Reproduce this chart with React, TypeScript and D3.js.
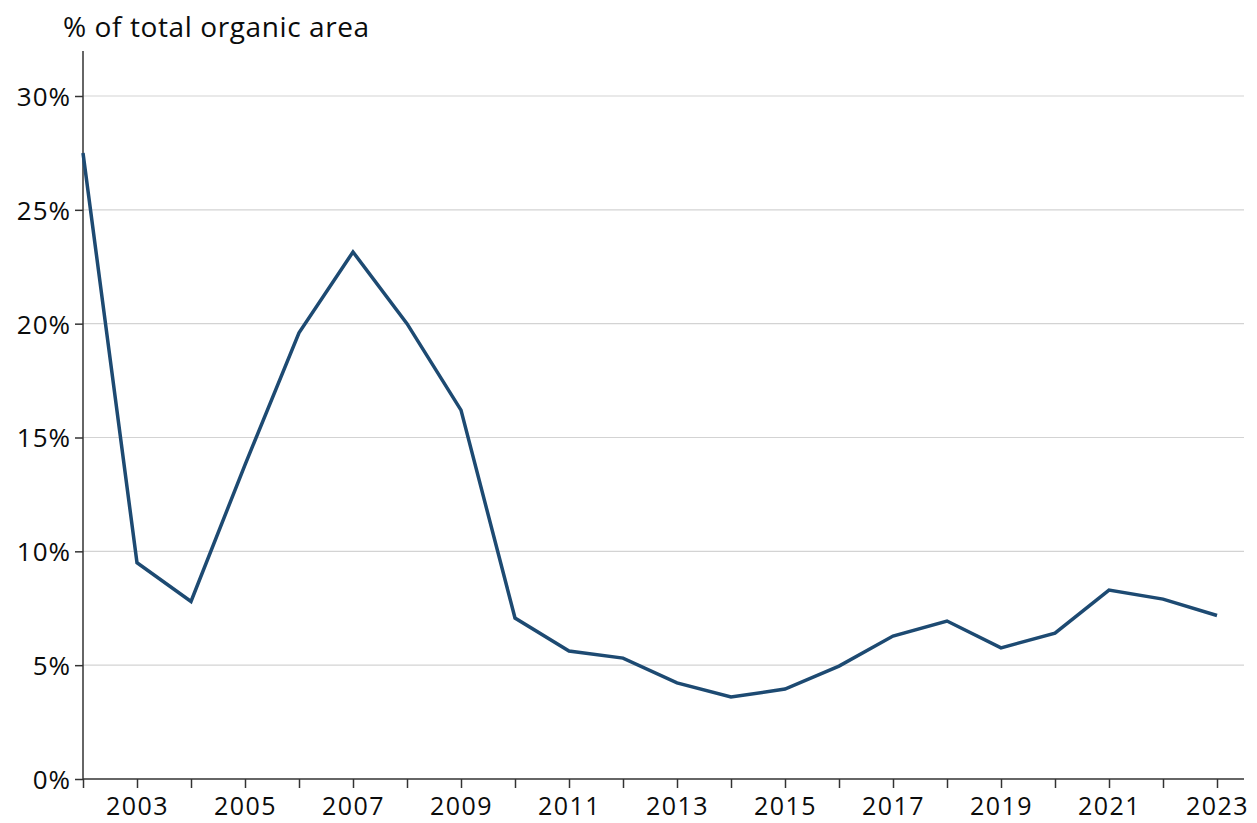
import * as d3 from "d3";
import { useRef, useEffect } from "react";

const years = d3.range(2002, 2024);
const shares = [
  27.5, 9.5, 7.8, 13.8, 19.6, 23.15, 20.0, 16.2, 7.07, 5.62, 5.31,
  4.22, 3.6, 3.95, 4.96, 6.28, 6.94, 5.76, 6.41, 8.3, 7.9, 7.18,
];
const yTicks = [0, 5, 10, 15, 20, 25, 30];
const xLabelYears = years.filter((y) => y % 2 === 1);
const yTitle = "% of total organic area";

const width = 1257;
const height = 823;
const marginLeft = 83;
const marginTop = 51;
const plotRight = 1244;
const plotBottom = 779;
const font = "'Open Sans', 'Noto Sans', sans-serif";

const App = () => {
  const ref = useRef<SVGSVGElement>(null);

  useEffect(() => {
    if (!ref.current) return;
    const svg = d3.select(ref.current);
    svg.selectAll("*").remove();

    const x = d3.scaleLinear().domain([2002, 2023]).range([marginLeft, 1217]);
    const y = d3.scaleLinear().domain([0, 30]).range([plotBottom, 96]);

    // gridlines
    svg.append("g")
      .selectAll("line")
      .data(yTicks.filter((t) => t > 0))
      .enter()
      .append("line")
      .attr("x1", marginLeft)
      .attr("x2", plotRight)
      .attr("y1", (d) => y(d))
      .attr("y2", (d) => y(d))
      .attr("stroke", "#d3d3d3")
      .attr("stroke-width", 1.2);

    // y axis
    const yAxis = svg.append("g")
      .attr("transform", `translate(${marginLeft},0)`)
      .call(d3.axisLeft(y).tickValues(yTicks).tickSize(8).tickFormat((d) => `${d}%`));
    yAxis.select(".domain").remove();
    yAxis.append("line")
      .attr("y1", marginTop).attr("y2", plotBottom)
      .attr("stroke", "#333").attr("stroke-width", 1.5);
    yAxis.selectAll(".tick line").attr("stroke", "#333").attr("stroke-width", 1.5);
    yAxis.selectAll(".tick text")
      .attr("fill", "#0b0c0c")
      .attr("font-size", 26)
      .attr("font-family", font)
      .attr("letter-spacing", 1)
      .attr("x", -12)
      .attr("dy", "0.36em");

    // x axis
    const xAxis = svg.append("g")
      .attr("transform", `translate(0,${plotBottom})`)
      .call(
        d3.axisBottom(x)
          .tickValues(years)
          .tickSize(9)
          .tickFormat((d) => (xLabelYears.includes(+d) ? String(d) : ""))
      );
    xAxis.select(".domain").remove();
    xAxis.append("line")
      .attr("x1", marginLeft).attr("x2", plotRight)
      .attr("stroke", "#333").attr("stroke-width", 1.5);
    xAxis.selectAll(".tick line").attr("stroke", "#333").attr("stroke-width", 1.5);
    xAxis.selectAll(".tick text")
      .attr("fill", "#0b0c0c")
      .attr("font-size", 25)
      .attr("font-family", font)
      .attr("letter-spacing", 1.5)
      .attr("y", 36)
      .attr("dy", 0);

    // the line
    const line = d3.line<number>()
      .x((_, i) => x(years[i]))
      .y((d) => y(d));
    svg.append("path")
      .datum(shares)
      .attr("d", line)
      .attr("fill", "none")
      .attr("stroke", "#1d4a72")
      .attr("stroke-width", 3.5)
      .attr("stroke-linejoin", "miter");

    // title
    svg.append("text")
      .attr("x", 63)
      .attr("y", 37)
      .attr("font-size", 28)
      .attr("font-family", font)
      .attr("letter-spacing", 0.6)
      .attr("fill", "#0b0c0c")
      .text(yTitle);
  }, []);

  return (
    <svg
      ref={ref}
      width={width}
      height={height}
      style={{ position: "absolute", left: 0, top: 0, background: "#fff" }}
    />
  );
};

export default App;
